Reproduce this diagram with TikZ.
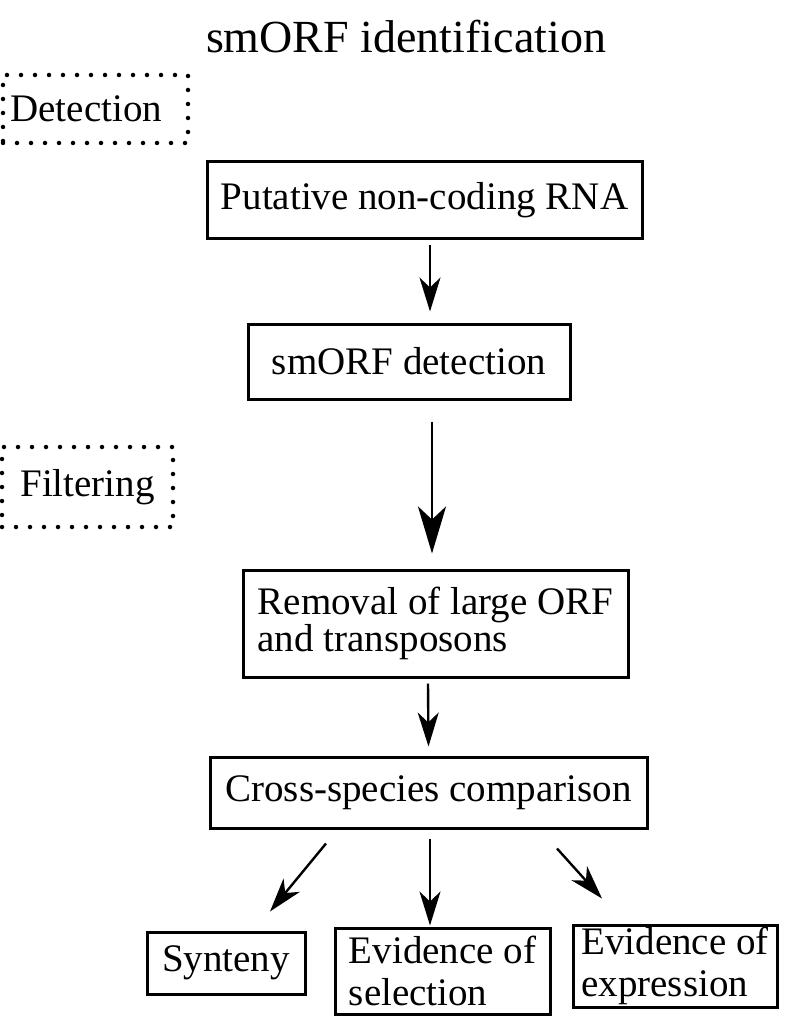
\documentclass[tikz,border=0pt]{standalone}
\usepackage{fontspec}
\setmainfont{Liberation Serif}
\usetikzlibrary{arrows.meta,calc}

\begin{document}
\begin{tikzpicture}[x=1pt, y=-1pt, auto,
	box/.style={draw, rectangle, line width=3pt, inner sep=0pt, font=\fontsize{39}{35}\selectfont},
	dotbox/.style={draw, rectangle, line width=4.5pt, line cap=round, dash pattern=on 0pt off 14pt, inner sep=0pt, font=\fontsize{39}{44}\selectfont},
	arr/.style={line width=2.4pt, -{Stealth[length=34pt, width=21pt, inset=10pt]}},
	bigarr/.style={line width=2.8pt, -{Stealth[length=47pt, width=28pt, inset=13pt]}}]

		\def \TitleSize {\fontsize{46}{50}\selectfont}
		\def \TwoLine {\fontsize{39}{42}\selectfont}

		\useasboundingbox (0,0) rectangle (787,1019);

		\node (Ttl) at (406,53) [anchor=base, font=\TitleSize]{smORF identification};

		% stage labels
		\node (Det) at (95.5,109) [dotbox, minimum width=185, minimum height=68, text width=170, align=left]{Detection};
		\node (Filt) at (87.5,487) [dotbox, minimum width=171, minimum height=80]{Filtering};

		% main column
		\node (Ncrna) at (424.5,200) [box, minimum width=435, minimum height=76]{Putative non-coding RNA};
		\node (SmDet) at (409,361.5) [box, minimum width=322, minimum height=75]{smORF detection};
		\node (Rem) at (435.5,623.5) [box, minimum width=385, minimum height=107, align=left]{Removal of large ORF\\and transposons};
		\node (Cross) at (428.5,792.5) [box, minimum width=437, minimum height=71]{Cross-species comparison};

		% evidence boxes
		\node (Syn) at (226,963) [box, minimum width=158, minimum height=62]{Synteny};
		\node (Sel) at (442.5,971) [box, font=\TwoLine, minimum width=215, minimum height=86, align=left]{Evidence of\\selection};
		\node (Expr) at (675,966) [box, font=\TwoLine, minimum width=204, minimum height=82, align=left]{Evidence of\\expression};

		\draw[arr] ($(Ncrna.south)+(5.5,5)$) -- ($(SmDet.north)+(21,-11)$);
		\draw[bigarr] ($(SmDet.south)+(23,21)$) -- ($(Rem.north)+(-3.5,-15)$);
		\draw[arr] ($(Rem.south)+(-7.5,5)$) -- ($(Cross.north)+(0,-9)$);
		\draw[arr] ($(Cross.south)+(-102.5,14)$) -- ($(Syn.north)+(44,-19)$);
		\draw[arr] ($(Cross.south)+(1.5,9)$) -- ($(Sel.north)+(-12.5,-1)$);
		\draw[arr] ($(Cross.south)+(128.5,19)$) -- ($(Expr.north)+(-73,-25)$);

	\end{tikzpicture}
\end{document}
